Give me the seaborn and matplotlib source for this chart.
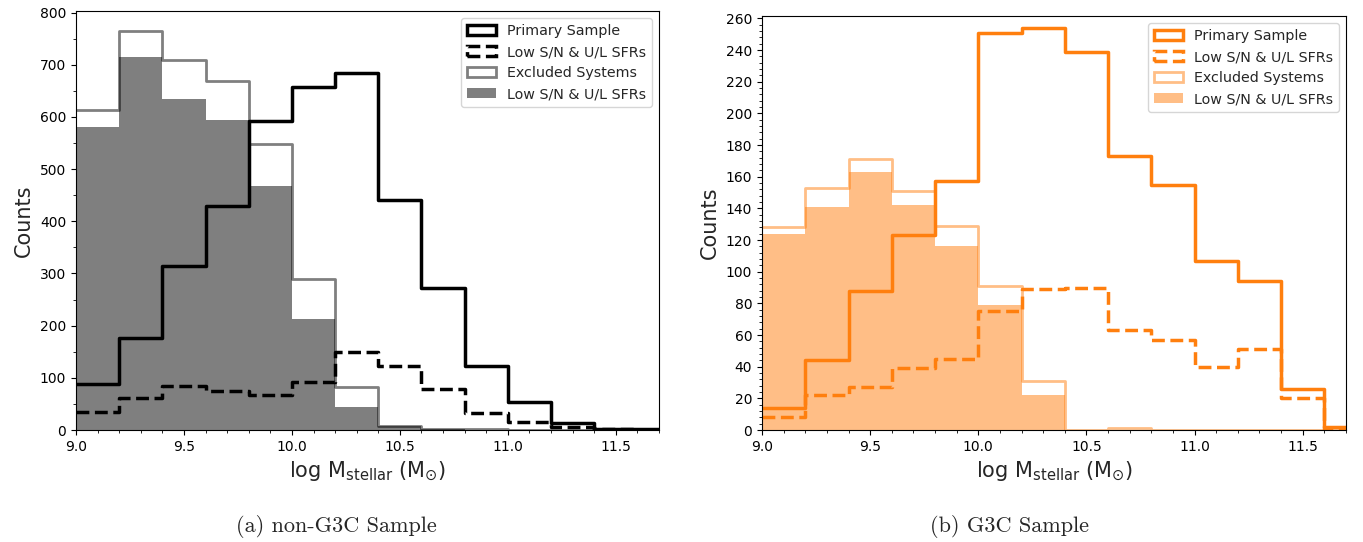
import matplotlib
matplotlib.use('Agg')
import matplotlib.pyplot as plt
from matplotlib.patches import Patch
from matplotlib.ticker import MultipleLocator
import numpy as np
import seaborn as sns

# bin edges of log stellar mass
edges = [9.0, 9.2, 9.4, 9.6, 9.8, 10.0, 10.2, 10.4, 10.6, 10.8, 11.0, 11.2, 11.4, 11.6, 11.8]

# (a) non-G3C sample counts per bin
nong3c_primary = [88, 176, 315, 430, 593, 658, 685, 441, 272, 123, 53, 13, 2, 1]
nong3c_primary_low = [35, 62, 85, 75, 68, 92, 150, 122, 78, 33, 15, 5, 1, 0]
nong3c_excluded = [613, 765, 710, 668, 549, 289, 82, 8, 2, 1, 0, 0, 0, 0]
nong3c_excluded_low = [581, 715, 635, 594, 467, 213, 44, 7, 1, 0, 0, 0, 0, 0]

# (b) G3C sample counts per bin
g3c_primary = [14, 44, 88, 123, 157, 251, 254, 239, 173, 155, 107, 94, 26, 2]
g3c_primary_low = [8, 22, 27, 39, 45, 75, 89, 90, 63, 57, 40, 51, 20, 0]
g3c_excluded = [128, 153, 171, 151, 129, 91, 31, 0, 1, 0, 0, 0, 0, 0]
g3c_excluded_low = [124, 141, 163, 142, 116, 79, 22, 0, 0, 0, 0, 0, 0, 0]

labels = ['Primary Sample', 'Low S/N & U/L SFRs', 'Excluded Systems', 'Low S/N & U/L SFRs']
captions = ['(a) non-G3C Sample', '(b) G3C Sample']

sns.set_style('ticks')
plt.rcParams['font.family'] = ['DejaVu Sans']
plt.rcParams['xtick.major.size'] = 3.5
plt.rcParams['ytick.major.size'] = 3.5
plt.rcParams['xtick.minor.size'] = 2
plt.rcParams['ytick.minor.size'] = 2
plt.rcParams['axes.edgecolor'] = 'black'
plt.rcParams['xtick.color'] = 'black'
plt.rcParams['ytick.color'] = 'black'

edges_arr = np.array(edges)
centers = (edges_arr[:-1] + edges_arr[1:]) / 2

fig = plt.figure(figsize=(13.63, 5.42), dpi=100)
ax1 = fig.add_axes([76 / 1363, 1 - 430 / 542, 583 / 1363, 419 / 542])
ax2 = fig.add_axes([762 / 1363, 1 - 430 / 542, 584 / 1363, 414 / 542])


def draw_panel(ax, primary, primary_low, excluded, excluded_low, color, ymax, major_y, minor_y):
    sns.histplot(x=centers, weights=excluded_low, bins=edges, element='step', fill=True,
                 color=color, alpha=0.5, linewidth=0, ax=ax)
    sns.histplot(x=centers, weights=excluded, bins=edges, element='step', fill=False,
                 color=color, alpha=0.5, linewidth=2, ax=ax)
    sns.histplot(x=centers, weights=primary_low, bins=edges, element='step', fill=False,
                 color=color, linewidth=2.5, linestyle='--', ax=ax)
    sns.histplot(x=centers, weights=primary, bins=edges, element='step', fill=False,
                 color=color, linewidth=2.5, ax=ax)
    ax.set_xlim(9.0, 11.7)
    ax.set_ylim(0, ymax)
    ax.xaxis.set_major_locator(MultipleLocator(0.5))
    ax.xaxis.set_minor_locator(MultipleLocator(0.1))
    ax.yaxis.set_major_locator(MultipleLocator(major_y))
    ax.yaxis.set_minor_locator(MultipleLocator(minor_y))
    ax.tick_params(labelsize=10)
    ax.set_xlabel(r'log M$_{\rm stellar}$ (M$_{\odot}$)', fontsize=15)
    ax.set_ylabel('Counts', fontsize=15)
    handles = [
        Patch(facecolor='none', edgecolor=color, linewidth=2.5),
        Patch(facecolor='none', edgecolor=color, linewidth=2.5, linestyle='--'),
        Patch(facecolor='none', edgecolor=matplotlib.colors.to_rgba(color, 0.5), linewidth=2),
        Patch(facecolor=matplotlib.colors.to_rgba(color, 0.5), edgecolor='none'),
    ]
    ax.legend(handles, labels, loc='upper right', fontsize=10.3)


draw_panel(ax1, nong3c_primary, nong3c_primary_low, nong3c_excluded, nong3c_excluded_low,
           'black', 803, 100, 50)
draw_panel(ax2, g3c_primary, g3c_primary_low, g3c_excluded, g3c_excluded_low,
           '#ff7f0e', 261.5, 20, 4)

fig.text(336 / 1363, 1 - 527 / 542, captions[0], fontfamily='cmr10', fontsize=16, ha='center', va='center')
fig.text(1010 / 1363, 1 - 527 / 542, captions[1], fontfamily='cmr10', fontsize=16, ha='center', va='center')

fig.savefig('out.png', dpi=100)
